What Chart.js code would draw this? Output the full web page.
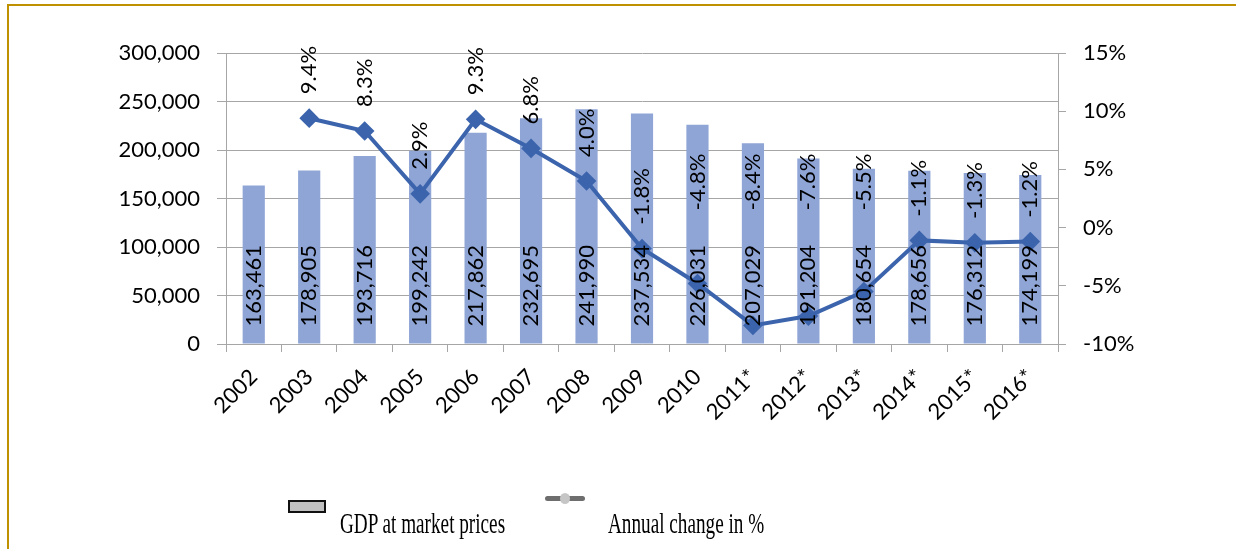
<!DOCTYPE html>
<html>
<head>
<meta charset="utf-8">
<script src="https://cdn.jsdelivr.net/npm/chart.js@4/dist/chart.umd.min.js"></script>
<style>
  html, body { margin: 0; padding: 0; background: #fff; }
  #wrap { position: relative; width: 1236px; height: 549px; overflow: hidden; }
  #chart { position: absolute; left: 0; top: 0; }
  .frame-top { position: absolute; left: 7px; top: 4px; right: 0; height: 2px; background: #bf9000; }
  .frame-left { position: absolute; left: 7px; top: 4px; width: 2px; bottom: 0; background: #bf9000; }
  .leg-text {
    position: absolute; font-family: "Liberation Serif", "Times New Roman", serif;
    font-size: 30px; line-height: 30px; color: #000; white-space: nowrap;
    transform: scaleX(0.64); transform-origin: left top;
  }
  .leg-box { position: absolute; left: 288px; top: 500px; width: 34px; height: 9px;
    background: #c0c0c0; border: 2px solid #111; }
  .leg-line { position: absolute; left: 545px; top: 496px; width: 40px; height: 5px;
    background: #6e6e6e; border-radius: 3px; }
  .leg-dot { position: absolute; left: 560px; top: 493px; width: 10px; height: 11px;
    background: #c6c6c6; border-radius: 50%; }
</style>
</head>
<body>
<div id="wrap">
  <canvas id="chart" width="1236" height="549"></canvas>
  <div class="frame-top"></div>
  <div class="frame-left"></div>
  <div class="leg-box"></div>
  <div class="leg-text" style="left:340px; top:508px;">GDP at market prices</div>
  <div class="leg-line"></div>
  <div class="leg-dot"></div>
  <div class="leg-text" style="left:608px; top:508px;">Annual change in %</div>
</div>
<script>
const years = ['2002', '2003', '2004', '2005', '2006', '2007', '2008', '2009', '2010',
  '2011*', '2012*', '2013*', '2014*', '2015*', '2016*'];
const gdp = [163461, 178905, 193716, 199242, 217862, 232695, 241990, 237534, 226031,
  207029, 191204, 180654, 178656, 176312, 174199];
const change = [null, 9.4, 8.3, 2.9, 9.3, 6.8, 4.0, -1.8, -4.8, -8.4, -7.6, -5.5, -1.1, -1.3, -1.2];

const BAR_COLOR = '#8fa5d6';
const LINE_COLOR = '#3b64ad';
const GRID_COLOR = '#a6a6a6';
const FONT = 'Lato, "Open Sans", sans-serif';

Chart.defaults.font.family = FONT;
Chart.defaults.font.size = 22;
Chart.defaults.color = '#000';

const formatNumber = (v) => v.toLocaleString('en-US');
const formatPercent = (v) => `${v.toFixed(1)}%`;

// rotated value labels, like the spreadsheet's data labels
const valueLabels = {
  id: 'valueLabels',
  afterDatasetsDraw(chart) {
    const ctx = chart.ctx;
    ctx.save();
    ctx.font = `22px ${FONT}`;
    ctx.fillStyle = '#000';
    ctx.textAlign = 'left';
    ctx.textBaseline = 'middle';

    const barTops = [];
    chart.getDatasetMeta(0).data.forEach((bar, i) => {
      const text = formatNumber(gdp[i]);
      const start = bar.base - 17;
      barTops[i] = start - ctx.measureText(text).width;
      ctx.save();
      ctx.translate(bar.x, start);
      ctx.rotate(-Math.PI / 2);
      ctx.fillText(text, 0, 0);
      ctx.restore();
    });

    // labels that would run into the bar label get lifted to a common height
    const liftY = chart.scales.y1.getPixelForValue(1.5);
    chart.getDatasetMeta(1).data.forEach((pt, i) => {
      if (change[i] === null) return;
      let start = pt.y - 24;
      if (start > barTops[i] - 4) start = liftY;
      ctx.save();
      ctx.translate(pt.x, start);
      ctx.rotate(-Math.PI / 2);
      ctx.fillText(formatPercent(change[i]), 0, 0);
      ctx.restore();
    });
    ctx.restore();
  }
};

new Chart(document.getElementById('chart'), {
  type: 'bar',
  data: {
    labels: years,
    datasets: [
      {
        type: 'bar',
        label: 'GDP at market prices',
        data: gdp,
        backgroundColor: BAR_COLOR,
        categoryPercentage: 1,
        barPercentage: 0.4,
        yAxisID: 'y',
        order: 2
      },
      {
        type: 'line',
        label: 'Annual change in %',
        data: change,
        borderColor: LINE_COLOR,
        backgroundColor: LINE_COLOR,
        borderWidth: 4,
        pointStyle: 'rectRot',
        pointRadius: 7,
        pointBackgroundColor: LINE_COLOR,
        pointBorderColor: LINE_COLOR,
        tension: 0,
        yAxisID: 'y1',
        order: 1
      }
    ]
  },
  options: {
    responsive: false,
    animation: false,
    devicePixelRatio: 1,
    layout: { padding: { top: 53, left: 0, right: 0, bottom: 0 } },
    plugins: {
      legend: { display: false },
      tooltip: { enabled: false }
    },
    scales: {
      x: {
        grid: { drawOnChartArea: false, drawTicks: true, tickLength: 8, color: GRID_COLOR },
        border: { color: GRID_COLOR },
        ticks: { minRotation: 45, maxRotation: 45, autoSkip: false, padding: 12 },
        afterFit: (scale) => { scale.height = 205; }
      },
      y: {
        position: 'left',
        min: 0,
        max: 300000,
        grid: { color: GRID_COLOR, tickLength: 9 },
        border: { color: GRID_COLOR },
        ticks: { stepSize: 50000, padding: 17, callback: (v) => formatNumber(v) },
        afterFit: (scale) => { scale.width = 226; }
      },
      y1: {
        position: 'right',
        min: -10,
        max: 15,
        grid: { drawOnChartArea: false, tickLength: 8, color: GRID_COLOR },
        border: { color: GRID_COLOR },
        ticks: { stepSize: 5, padding: 17, callback: (v) => `${v}%` },
        afterFit: (scale) => { scale.width = 178; }
      }
    }
  },
  plugins: [valueLabels]
});
</script>
</body>
</html>
